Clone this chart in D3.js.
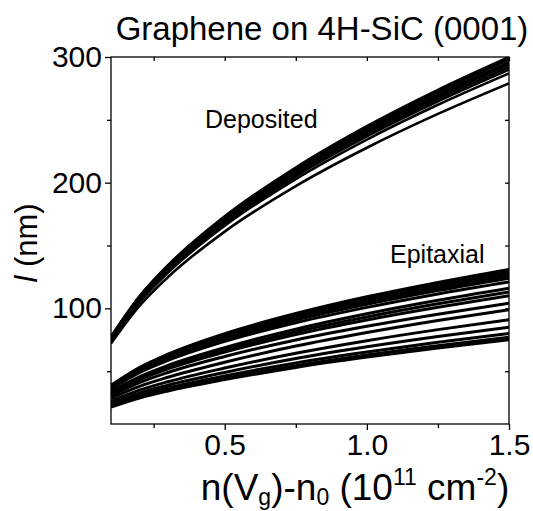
<!DOCTYPE html>
<html>
<head>
<meta charset="utf-8">
<script src="https://cdn.jsdelivr.net/npm/d3@7"></script>
<style>
  body { margin: 0; background: #fff; }
  svg text { font-family: "Liberation Sans", Arial, sans-serif; fill: #000; }
</style>
</head>
<body>
<div id="chart"></div>
<script>
// carrier density samples (10^11 cm^-2)
var density = [0.1, 0.2, 0.3, 0.5, 0.75, 1.0, 1.25, 1.5];

// mean free path l (nm), one row per sample
var deposited = [
  [77.5, 109.5, 134.2, 173.2, 212.1, 245.0, 273.9, 300],
  [77.2, 109.2, 133.7, 172.6, 211.4, 244.1, 273.0, 299],
  [76.9, 108.8, 133.3, 172.1, 210.7, 243.3, 272.0, 298],
  [76.4, 108.1, 132.4, 170.9, 209.3, 241.7, 270.2, 296],
  [76.2, 107.7, 131.9, 170.3, 208.6, 240.9, 269.3, 295],
  [75.9, 107.3, 131.5, 169.8, 207.9, 240.1, 268.4, 294],
  [75.4, 106.6, 130.6, 168.6, 206.5, 238.4, 266.6, 292],
  [74.9, 105.9, 129.7, 167.4, 205.1, 236.8, 264.7, 290],
  [74.1, 104.8, 128.3, 165.7, 202.9, 234.3, 262.0, 287],
  [72.0, 101.9, 124.8, 161.1, 197.3, 227.8, 254.7, 279]
];

var epitaxial = [
  [38.7, 52.9, 63.5, 79.9, 95.9, 109.2, 120.7, 131],
  [38.4, 52.5, 63.0, 79.3, 95.2, 108.3, 119.8, 130],
  [37.8, 51.7, 62.0, 78.1, 93.7, 106.6, 117.9, 128],
  [37.2, 50.9, 61.1, 76.8, 92.2, 105.0, 116.1, 126],
  [36.7, 50.1, 60.1, 75.6, 90.8, 103.3, 114.2, 124],
  [35.8, 48.9, 58.6, 73.8, 88.6, 100.8, 111.5, 121],
  [33.8, 45.6, 54.6, 68.8, 83.5, 95.7, 106.4, 116],
  [32.9, 44.4, 53.2, 67.0, 81.4, 93.2, 103.6, 113],
  [32.0, 43.2, 51.8, 65.2, 79.2, 90.8, 100.9, 110],
  [30.3, 40.9, 49.0, 61.7, 74.9, 85.8, 95.4, 104],
  [28.4, 37.9, 45.2, 57.1, 70.0, 80.8, 90.4, 99],
  [26.1, 34.9, 41.6, 52.5, 64.3, 74.3, 83.1, 91],
  [24.4, 32.6, 38.8, 49.0, 60.1, 69.4, 77.6, 85],
  [23.0, 30.6, 36.6, 46.2, 56.6, 65.3, 73.0, 80],
  [22.1, 29.5, 35.2, 44.4, 54.4, 62.9, 70.3, 77],
  [21.5, 28.7, 34.3, 43.3, 53.0, 61.2, 68.5, 75]
];

var xMajor = [0.5, 1.0, 1.5];
var xMinor = [0.25, 0.75, 1.25];
var yMajor = [100, 200, 300];
var yMinor = [50, 150, 250];

var w = 533, h = 511;
var plotL = 111, plotR = 509, plotT = 57, plotB = 424;

var svg = d3.select('#chart')
            .append('svg')
            .attr('width', w)
            .attr('height', h);

var x = d3.scaleLinear().domain([0.1, 1.5]).range([plotL, plotR]);
var y = d3.scaleLinear().domain([8, 300]).range([plotB, plotT]);

svg.append('clipPath').attr('id', 'plot')
   .append('rect')
   .attr('x', plotL).attr('y', plotT)
   .attr('width', plotR - plotL).attr('height', plotB - plotT);

var line = d3.line()
             .x(function(d, i) { return x(density[i]); })
             .y(function(d) { return y(d); })
             .curve(d3.curveMonotoneX);

var curves = svg.append('g').attr('clip-path', 'url(#plot)');
curves.selectAll('path.dep')
      .data(deposited)
      .enter()
      .append('path')
      .attr('class', 'dep')
      .attr('d', line)
      .attr('fill', 'none')
      .attr('stroke', '#000')
      .attr('stroke-width', 2.6);
curves.selectAll('path.epi')
      .data(epitaxial)
      .enter()
      .append('path')
      .attr('class', 'epi')
      .attr('d', line)
      .attr('fill', 'none')
      .attr('stroke', '#000')
      .attr('stroke-width', 3);

// axes: major + minor on each side
function styleAxis(g) {
  g.select('.domain').remove();
  g.selectAll('line').attr('stroke', '#000').attr('stroke-width', 1.3);
  g.selectAll('text').style('font-size', '30px');
}

svg.append('g').attr('transform', 'translate(0,' + plotB + ')')
   .call(d3.axisBottom(x).tickValues(xMajor).tickSize(6).tickPadding(4)
         .tickFormat(d3.format('.1f')))
   .call(styleAxis);
svg.append('g').attr('transform', 'translate(0,' + plotB + ')')
   .call(d3.axisBottom(x).tickValues(xMinor).tickSize(4).tickFormat(''))
   .call(styleAxis);
svg.append('g').attr('transform', 'translate(' + plotL + ',0)')
   .call(d3.axisLeft(y).tickValues(yMajor).tickSize(6).tickPadding(3))
   .call(styleAxis);
svg.append('g').attr('transform', 'translate(' + plotL + ',0)')
   .call(d3.axisLeft(y).tickValues(yMinor).tickSize(4).tickFormat(''))
   .call(styleAxis);
svg.append('g').attr('transform', 'translate(0,' + plotT + ')')
   .call(d3.axisBottom(x).tickValues(xMajor.concat(xMinor)).tickSize(4).tickFormat(''))
   .call(styleAxis);
svg.append('g').attr('transform', 'translate(' + plotR + ',0)')
   .call(d3.axisLeft(y).tickValues(yMajor.concat(yMinor)).tickSize(4).tickFormat(''))
   .call(styleAxis);

svg.append('rect')
   .attr('x', plotL).attr('y', plotT)
   .attr('width', plotR - plotL).attr('height', plotB - plotT)
   .attr('fill', 'none').attr('stroke', '#000').attr('stroke-width', 1.3);

// labels
svg.append('text')
   .attr('x', 322).attr('y', 40)
   .attr('text-anchor', 'middle')
   .style('font-size', '33px')
   .text('Graphene on 4H-SiC (0001)');

svg.append('text').attr('x', 205).attr('y', 128)
   .style('font-size', '25px').text('Deposited');
svg.append('text').attr('x', 390).attr('y', 263)
   .style('font-size', '25px').text('Epitaxial');

var ylab = svg.append('text')
   .attr('transform', 'translate(37,243) rotate(-90)')
   .attr('text-anchor', 'middle')
   .style('font-size', '31px');
ylab.append('tspan').style('font-style', 'italic').text('l');
ylab.append('tspan').text(' (nm)');

var xlab = svg.append('text')
   .attr('x', 355).attr('y', 500)
   .attr('text-anchor', 'middle')
   .style('font-size', '37px');
xlab.append('tspan').text('n(V');
xlab.append('tspan').attr('dy', 5).style('font-size', '23px').text('g');
xlab.append('tspan').attr('dy', -5).text(')-n');
xlab.append('tspan').attr('dy', 5).style('font-size', '23px').text('0');
xlab.append('tspan').attr('dy', -5).text(' (10');
xlab.append('tspan').attr('dy', -15).style('font-size', '23px').text('11');
xlab.append('tspan').attr('dy', 15).text(' cm');
xlab.append('tspan').attr('dy', -15).style('font-size', '23px').text('-2');
xlab.append('tspan').attr('dy', 15).text(')');
</script>
</body>
</html>
